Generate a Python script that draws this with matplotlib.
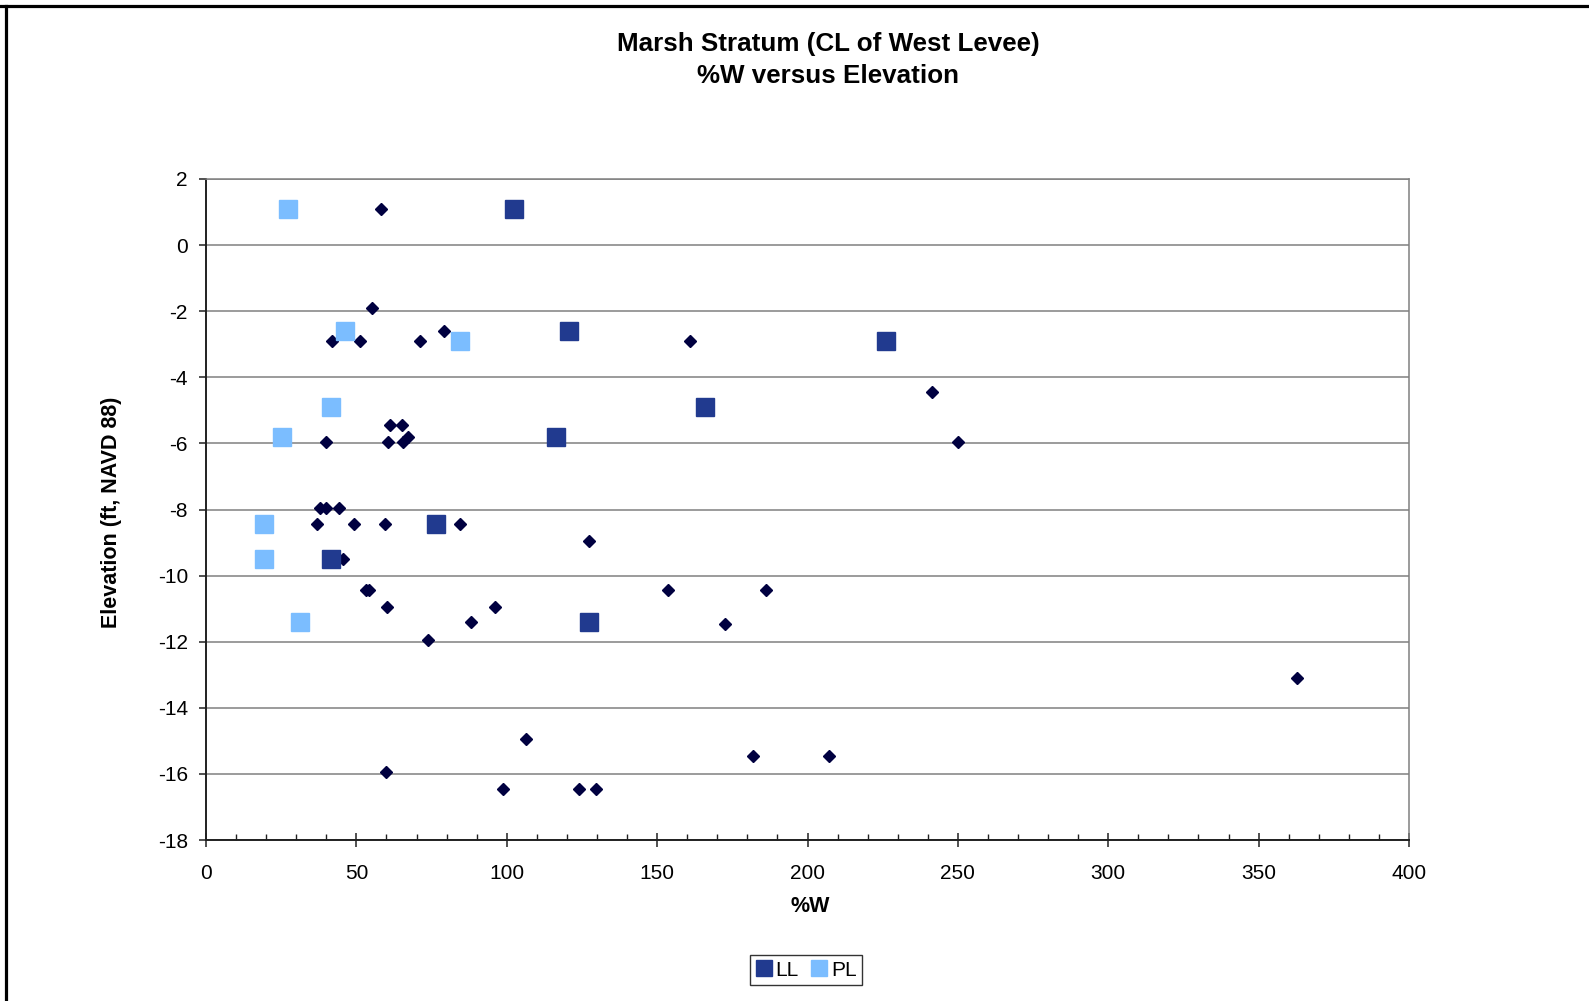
import matplotlib
matplotlib.use("Agg")
import matplotlib.pyplot as plt
from matplotlib.lines import Line2D
from matplotlib.ticker import MultipleLocator

plt.rcParams['font.family'] = ['Liberation Sans', 'DejaVu Sans']
plt.rcParams['axes.unicode_minus'] = False

# all samples (%W vs elevation) - diamonds, no legend entry
w_all = [58.2, 55.2, 41.8, 51.2, 71.3, 79.0, 161.0, 241.4, 61.3, 65.1,
         40.0, 60.5, 65.4, 67.2, 250.1, 37.9, 39.9, 44.1, 36.9, 49.3,
         59.6, 84.5, 127.2, 45.7, 53.2, 54.3, 153.7, 186.3, 60.3, 96.1,
         88.2, 172.5, 73.9, 362.9, 106.4, 182.0, 207.1, 59.7, 98.6, 123.9,
         129.7]
elev_all = [1.1, -1.9, -2.9, -2.9, -2.9, -2.6, -2.9, -4.45, -5.45, -5.45,
            -5.95, -5.95, -5.95, -5.8, -5.95, -7.95, -7.95, -7.95, -8.45, -8.45,
            -8.45, -8.45, -8.95, -9.5, -10.45, -10.45, -10.45, -10.45, -10.95, -10.95,
            -11.4, -11.45, -11.95, -13.1, -14.95, -15.45, -15.45, -15.95, -16.45, -16.45,
            -16.45]

# liquid limit / plastic limit
elev_lim = [1.1, -2.6, -2.9, -4.9, -5.8, -8.45, -9.5, -11.4]
ll = [102.5, 120.7, 226.0, 166.0, 116.4, 76.5, 41.4, 127.4]
pl = [27.4, 46.3, 84.4, 41.4, 25.3, 19.3, 19.3, 31.25]

W, H = 1589, 1001
fig = plt.figure(figsize=(W / 100, H / 100), dpi=100)
ax = fig.add_axes([206 / W, 1 - 840 / H, 1203 / W, 661 / H])

ax.plot(w_all, elev_all, linestyle='none', marker='D', ms=6.2,
        color='#000040', mec='#000040', zorder=3)
ax.plot(ll, elev_lim, linestyle='none', marker='s', ms=13,
        color='#213A8F', mec='#213A8F', label='LL', zorder=3)
ax.plot(pl, elev_lim, linestyle='none', marker='s', ms=13,
        color='#7BBDFF', mec='#7BBDFF', label='PL', zorder=3)

ax.set_xlim(0, 400)
ax.set_ylim(-18, 2)
ax.xaxis.set_major_locator(MultipleLocator(50))
ax.xaxis.set_minor_locator(MultipleLocator(10))
ax.yaxis.set_major_locator(MultipleLocator(2))

ax.grid(axis='y', color='#808080', lw=1.1, zorder=1)
ax.set_axisbelow(True)

for s in ['left', 'bottom']:
    ax.spines[s].set_color('#202020')
    ax.spines[s].set_linewidth(1.4)
for s in ['top', 'right']:
    ax.spines[s].set_color('#808080')
    ax.spines[s].set_linewidth(1.1)

ax.tick_params(axis='y', which='major', direction='out', length=5, width=1.1,
               labelsize=15, pad=8, color='#202020')
ax.tick_params(axis='x', which='major', direction='inout', length=10, width=1.1,
               labelsize=15, pad=12, color='#202020')
ax.tick_params(axis='x', which='minor', direction='in', length=4, width=1.0,
               color='#202020')

fig.text(828 / W, 1 - 44 / H, 'Marsh Stratum (CL of West Levee)', ha='center',
         va='center', fontsize=18.7, fontweight='bold')
fig.text(828 / W, 1 - 76 / H, '%W versus Elevation', ha='center',
         va='center', fontsize=18.7, fontweight='bold')
fig.text(111 / W, 1 - 512 / H, 'Elevation (ft, NAVD 88)', rotation=90,
         ha='center', va='center', fontsize=15.5, fontweight='bold')
fig.text(810 / W, 1 - 907 / H, '%W', ha='center', va='center',
         fontsize=15.5, fontweight='bold')

leg = fig.legend(loc='center', bbox_to_anchor=(806 / W, 1 - 970 / H), ncol=2,
                 fontsize=15, frameon=True, fancybox=False, handlelength=0.8,
                 handletextpad=0.15, columnspacing=0.6, borderpad=0.25,
                 markerscale=0.85)
leg.get_frame().set_edgecolor('black')
leg.get_frame().set_linewidth(1.0)

# outer border (top and left only)
fig.add_artist(Line2D([0, 1], [1 - 5.5 / H, 1 - 5.5 / H], color='black', lw=2.3))
fig.add_artist(Line2D([6.5 / W, 6.5 / W], [0, 1 - 5.5 / H], color='black', lw=2.3))

fig.savefig('out.png', dpi=100)
